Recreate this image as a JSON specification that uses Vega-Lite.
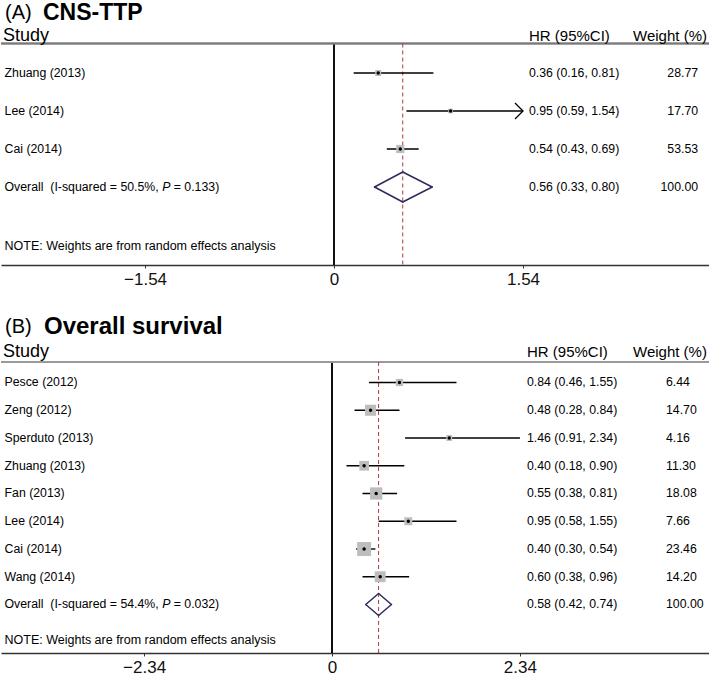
{
  "$schema": "https://vega.github.io/schema/vega-lite/v6.json",
  "padding": 0,
  "background": "white",
  "bounds": "flush",
  "spacing": 25,
  "config": {
    "view": {"stroke": null},
    "font": "Liberation Sans",
    "text": {"font": "Liberation Sans", "color": "#000", "baseline": "middle"},
    "axisY": {"disable": true},
    "axisX": {
      "domainColor": "#333", "domainWidth": 1.5, "tickColor": "#333", "tickSize": 3, "tickWidth": 1,
      "labelFont": "Liberation Sans", "labelFontSize": 17, "labelColor": "#111", "labelPadding": 3.5,
      "grid": false, "title": null, "labelFlush": false, "labelOverlap": false
    }
  },
  "datasets": {
    "a": [
      {"type": "study", "row": 1, "study": "Zhuang (2013)", "hr": 0.36, "lo": 0.16, "hi": 0.81, "weight": 28.77, "hrci": "0.36 (0.16, 0.81)"},
      {"type": "study", "row": 2, "study": "Lee (2014)", "hr": 0.95, "lo": 0.59, "hi": 1.54, "weight": 17.70, "hrci": "0.95 (0.59, 1.54)"},
      {"type": "study", "row": 3, "study": "Cai (2014)", "hr": 0.54, "lo": 0.43, "hi": 0.69, "weight": 53.53, "hrci": "0.54 (0.43, 0.69)"},
      {"type": "overall", "row": 4, "study": "Overall\u00a0\u00a0(I-squared = 50.5%,", "pval": "= 0.133)", "hr": 0.56, "lo": 0.33, "hi": 0.80, "weight": 100.00, "hrci": "0.56 (0.33, 0.80)"}
    ],
    "b": [
      {"type": "study", "row": 1, "study": "Pesce (2012)", "hr": 0.84, "lo": 0.46, "hi": 1.55, "weight": 6.44, "hrci": "0.84 (0.46, 1.55)"},
      {"type": "study", "row": 2, "study": "Zeng (2012)", "hr": 0.48, "lo": 0.28, "hi": 0.84, "weight": 14.70, "hrci": "0.48 (0.28, 0.84)"},
      {"type": "study", "row": 3, "study": "Sperduto (2013)", "hr": 1.46, "lo": 0.91, "hi": 2.34, "weight": 4.16, "hrci": "1.46 (0.91, 2.34)"},
      {"type": "study", "row": 4, "study": "Zhuang (2013)", "hr": 0.40, "lo": 0.18, "hi": 0.90, "weight": 11.30, "hrci": "0.40 (0.18, 0.90)"},
      {"type": "study", "row": 5, "study": "Fan (2013)", "hr": 0.55, "lo": 0.38, "hi": 0.81, "weight": 18.08, "hrci": "0.55 (0.38, 0.81)"},
      {"type": "study", "row": 6, "study": "Lee (2014)", "hr": 0.95, "lo": 0.58, "hi": 1.55, "weight": 7.66, "hrci": "0.95 (0.58, 1.55)"},
      {"type": "study", "row": 7, "study": "Cai (2014)", "hr": 0.40, "lo": 0.30, "hi": 0.54, "weight": 23.46, "hrci": "0.40 (0.30, 0.54)"},
      {"type": "study", "row": 8, "study": "Wang (2014)", "hr": 0.60, "lo": 0.38, "hi": 0.96, "weight": 14.20, "hrci": "0.60 (0.38, 0.96)"},
      {"type": "overall", "row": 9, "study": "Overall\u00a0\u00a0(I-squared = 54.4%,", "pval": "= 0.032)", "hr": 0.58, "lo": 0.42, "hi": 0.74, "weight": 100.00, "hrci": "0.58 (0.42, 0.74)"}
    ]
  },
  "resolve": {"scale": {"x": "independent", "y": "independent", "size": "independent"}},
  "vconcat": [
    {
      "width": 709,
      "height": 265,
      "data": {"name": "a"},
      "layer": [
        {
          "mark": {"type": "rule", "color": "#111", "strokeWidth": 1.5},
          "encoding": {
            "x": {"datum": 0, "type": "quantitative", "scale": {"domain": [-2.714, 3.064], "nice": false, "zero": false},
                  "axis": {"values": [-1.54, 0, 1.54], "labelExpr": "datum.value == 0 ? '0' : format(datum.value, '.2f')"}},
            "y": {"datum": 0.2237, "type": "quantitative", "scale": {"domain": [-0.9211, 6.0526], "reverse": true, "nice": false, "zero": false}},
            "y2": {"datum": 6.0526}
          }
        },
        {
          "mark": {"type": "rule", "color": "#7a7a7a", "strokeWidth": 1.5},
          "encoding": {"y": {"datum": 0.2237, "type": "quantitative"}}
        },
        {
          "transform": [{"filter": "datum.type == 'overall'"}],
          "mark": {"type": "rule", "color": "#b03a3a", "strokeWidth": 1, "strokeDash": [4, 3]},
          "encoding": {
            "x": {"field": "hr", "type": "quantitative"},
            "y": {"datum": 0.2237, "type": "quantitative"},
            "y2": {"datum": 6.0526}
          }
        },
        {
          "transform": [{"filter": "datum.type == 'study'"}],
          "mark": {"type": "rule", "color": "#000", "strokeWidth": 1.4},
          "encoding": {
            "x": {"field": "lo", "type": "quantitative"},
            "x2": {"field": "hi"},
            "y": {"field": "row", "type": "quantitative"}
          }
        },
        {
          "transform": [{"filter": "datum.type == 'study'"}],
          "mark": {"type": "point", "shape": "square", "filled": true, "color": "#bdbdbd", "opacity": 1},
          "encoding": {
            "x": {"field": "hr", "type": "quantitative"},
            "y": {"field": "row", "type": "quantitative"},
            "size": {"field": "weight", "type": "quantitative", "scale": {"domain": [0, 100], "range": [0, 125]}, "legend": null}
          }
        },
        {
          "transform": [{"filter": "datum.type == 'study'"}],
          "mark": {"type": "point", "shape": "circle", "filled": true, "color": "#000", "size": 12, "opacity": 1},
          "encoding": {
            "x": {"field": "hr", "type": "quantitative"},
            "y": {"field": "row", "type": "quantitative"}
          }
        },
        {
          "transform": [{"filter": "datum.study == 'Lee (2014)'"}],
          "mark": {"type": "point", "shape": "M-1,-1L0,0L-1,1", "filled": false, "stroke": "#000", "strokeWidth": 1.3, "size": 256, "opacity": 1},
          "encoding": {
            "x": {"field": "hi", "type": "quantitative"},
            "y": {"field": "row", "type": "quantitative"}
          }
        },
        {
          "transform": [{"filter": "datum.type == 'overall'"}],
          "mark": {"type": "rule", "color": "#2e2a5e", "strokeWidth": 1.5, "y2Offset": -15, "strokeCap": "round"},
          "encoding": {
            "x": {"field": "lo", "type": "quantitative"}, "x2": {"field": "hr"},
            "y": {"field": "row", "type": "quantitative"}, "y2": {"field": "row"}
          }
        },
        {
          "transform": [{"filter": "datum.type == 'overall'"}],
          "mark": {"type": "rule", "color": "#2e2a5e", "strokeWidth": 1.5, "y2Offset": 15, "strokeCap": "round"},
          "encoding": {
            "x": {"field": "lo", "type": "quantitative"}, "x2": {"field": "hr"},
            "y": {"field": "row", "type": "quantitative"}, "y2": {"field": "row"}
          }
        },
        {
          "transform": [{"filter": "datum.type == 'overall'"}],
          "mark": {"type": "rule", "color": "#2e2a5e", "strokeWidth": 1.5, "yOffset": -15, "strokeCap": "round"},
          "encoding": {
            "x": {"field": "hr", "type": "quantitative"}, "x2": {"field": "hi"},
            "y": {"field": "row", "type": "quantitative"}, "y2": {"field": "row"}
          }
        },
        {
          "transform": [{"filter": "datum.type == 'overall'"}],
          "mark": {"type": "rule", "color": "#2e2a5e", "strokeWidth": 1.5, "yOffset": 15, "strokeCap": "round"},
          "encoding": {
            "x": {"field": "hr", "type": "quantitative"}, "x2": {"field": "hi"},
            "y": {"field": "row", "type": "quantitative"}, "y2": {"field": "row"}
          }
        },
        {
          "mark": {"type": "text", "align": "left", "fontSize": 12.3},
          "encoding": {
            "x": {"datum": -2.685, "type": "quantitative"},
            "y": {"field": "row", "type": "quantitative"},
            "text": {"field": "study"}
          }
        },
        {
          "transform": [{"filter": "datum.type == 'overall'"}],
          "mark": {"type": "text", "align": "left", "fontSize": 12.3, "fontStyle": "italic", "dx": 157.6},
          "encoding": {
            "x": {"datum": -2.685, "type": "quantitative"},
            "y": {"field": "row", "type": "quantitative"},
            "text": {"value": "P"}
          }
        },
        {
          "transform": [{"filter": "datum.type == 'overall'"}],
          "mark": {"type": "text", "align": "left", "fontSize": 12.3, "dx": 169.2},
          "encoding": {
            "x": {"datum": -2.685, "type": "quantitative"},
            "y": {"field": "row", "type": "quantitative"},
            "text": {"field": "pval"}
          }
        },
        {
          "mark": {"type": "text", "align": "left", "fontSize": 12.3},
          "encoding": {
            "x": {"datum": 1.589, "type": "quantitative"},
            "y": {"field": "row", "type": "quantitative"},
            "text": {"field": "hrci"}
          }
        },
        {
          "mark": {"type": "text", "align": "right", "fontSize": 12.3},
          "encoding": {
            "x": {"datum": 2.967, "type": "quantitative"},
            "y": {"field": "row", "type": "quantitative"},
            "text": {"field": "weight", "type": "quantitative", "format": ".2f"}
          }
        },
        {
          "data": {"values": [{}]},
          "mark": {"type": "text", "align": "left", "fontSize": 20},
          "encoding": {
            "x": {"datum": -2.681, "type": "quantitative"},
            "y": {"datum": -0.579, "type": "quantitative"},
            "text": {"value": "(A)"}
          }
        },
        {
          "data": {"values": [{}]},
          "mark": {"type": "text", "align": "left", "fontSize": 23, "fontWeight": "bold"},
          "encoding": {
            "x": {"datum": -2.372, "type": "quantitative"},
            "y": {"datum": -0.579, "type": "quantitative"},
            "text": {"value": "CNS-TTP"}
          }
        },
        {
          "data": {"values": [{}]},
          "mark": {"type": "text", "align": "left", "fontSize": 18},
          "encoding": {
            "x": {"datum": -2.698, "type": "quantitative"},
            "y": {"datum": 0.0263, "type": "quantitative"},
            "text": {"value": "Study"}
          }
        },
        {
          "data": {"values": [{}]},
          "mark": {"type": "text", "align": "left", "fontSize": 15},
          "encoding": {
            "x": {"datum": 1.589, "type": "quantitative"},
            "y": {"datum": 0.0263, "type": "quantitative"},
            "text": {"value": "HR (95%CI)"}
          }
        },
        {
          "data": {"values": [{}]},
          "mark": {"type": "text", "align": "left", "fontSize": 15},
          "encoding": {
            "x": {"datum": 2.437, "type": "quantitative"},
            "y": {"datum": 0.0263, "type": "quantitative"},
            "text": {"value": "Weight (%)"}
          }
        },
        {
          "data": {"values": [{}]},
          "mark": {"type": "text", "align": "left", "fontSize": 12.5},
          "encoding": {
            "x": {"datum": -2.685, "type": "quantitative"},
            "y": {"datum": 5.553, "type": "quantitative"},
            "text": {"value": "NOTE: Weights are from random effects analysis"}
          }
        }
      ]
    },
    {
      "width": 709,
      "height": 363,
      "data": {"name": "b"},
      "layer": [
        {
          "mark": {"type": "rule", "color": "#111", "strokeWidth": 1.5},
          "encoding": {
            "x": {"datum": 0, "type": "quantitative", "scale": {"domain": [-4.122, 4.707], "nice": false, "zero": false},
                  "axis": {"values": [-2.34, 0, 2.34], "labelExpr": "datum.value == 0 ? '0' : format(datum.value, '.2f')"}},
            "y": {"datum": 0.261, "type": "quantitative", "scale": {"domain": [-2.333, 10.748], "reverse": true, "nice": false, "zero": false}},
            "y2": {"datum": 10.748}
          }
        },
        {
          "mark": {"type": "rule", "color": "#9a9a9a", "strokeWidth": 1.5},
          "encoding": {"y": {"datum": 0.261, "type": "quantitative"}}
        },
        {
          "transform": [{"filter": "datum.type == 'overall'"}],
          "mark": {"type": "rule", "color": "#b03a3a", "strokeWidth": 1, "strokeDash": [4, 3]},
          "encoding": {
            "x": {"field": "hr", "type": "quantitative"},
            "y": {"datum": 0.261, "type": "quantitative"},
            "y2": {"datum": 10.748}
          }
        },
        {
          "transform": [{"filter": "datum.type == 'study'"}],
          "mark": {"type": "rule", "color": "#000", "strokeWidth": 1.4},
          "encoding": {
            "x": {"field": "lo", "type": "quantitative"},
            "x2": {"field": "hi"},
            "y": {"field": "row", "type": "quantitative"}
          }
        },
        {
          "transform": [{"filter": "datum.type == 'study'"}],
          "mark": {"type": "point", "shape": "square", "filled": true, "color": "#bdbdbd", "opacity": 1},
          "encoding": {
            "x": {"field": "hr", "type": "quantitative"},
            "y": {"field": "row", "type": "quantitative"},
            "size": {"field": "weight", "type": "quantitative", "scale": {"domain": [0, 100], "range": [0, 830]}, "legend": null}
          }
        },
        {
          "transform": [{"filter": "datum.type == 'study'"}],
          "mark": {"type": "point", "shape": "circle", "filled": true, "color": "#000", "size": 12, "opacity": 1},
          "encoding": {
            "x": {"field": "hr", "type": "quantitative"},
            "y": {"field": "row", "type": "quantitative"}
          }
        },
        {
          "transform": [{"filter": "datum.type == 'overall'"}],
          "mark": {"type": "rule", "color": "#2e2a5e", "strokeWidth": 1.5, "y2Offset": -11, "strokeCap": "round"},
          "encoding": {
            "x": {"field": "lo", "type": "quantitative"}, "x2": {"field": "hr"},
            "y": {"field": "row", "type": "quantitative"}, "y2": {"field": "row"}
          }
        },
        {
          "transform": [{"filter": "datum.type == 'overall'"}],
          "mark": {"type": "rule", "color": "#2e2a5e", "strokeWidth": 1.5, "y2Offset": 11, "strokeCap": "round"},
          "encoding": {
            "x": {"field": "lo", "type": "quantitative"}, "x2": {"field": "hr"},
            "y": {"field": "row", "type": "quantitative"}, "y2": {"field": "row"}
          }
        },
        {
          "transform": [{"filter": "datum.type == 'overall'"}],
          "mark": {"type": "rule", "color": "#2e2a5e", "strokeWidth": 1.5, "yOffset": -11, "strokeCap": "round"},
          "encoding": {
            "x": {"field": "hr", "type": "quantitative"}, "x2": {"field": "hi"},
            "y": {"field": "row", "type": "quantitative"}, "y2": {"field": "row"}
          }
        },
        {
          "transform": [{"filter": "datum.type == 'overall'"}],
          "mark": {"type": "rule", "color": "#2e2a5e", "strokeWidth": 1.5, "yOffset": 11, "strokeCap": "round"},
          "encoding": {
            "x": {"field": "hr", "type": "quantitative"}, "x2": {"field": "hi"},
            "y": {"field": "row", "type": "quantitative"}, "y2": {"field": "row"}
          }
        },
        {
          "mark": {"type": "text", "align": "left", "fontSize": 12.3},
          "encoding": {
            "x": {"datum": -4.078, "type": "quantitative"},
            "y": {"field": "row", "type": "quantitative"},
            "text": {"field": "study"}
          }
        },
        {
          "transform": [{"filter": "datum.type == 'overall'"}],
          "mark": {"type": "text", "align": "left", "fontSize": 12.3, "fontStyle": "italic", "dx": 157.6},
          "encoding": {
            "x": {"datum": -4.078, "type": "quantitative"},
            "y": {"field": "row", "type": "quantitative"},
            "text": {"value": "P"}
          }
        },
        {
          "transform": [{"filter": "datum.type == 'overall'"}],
          "mark": {"type": "text", "align": "left", "fontSize": 12.3, "dx": 169.2},
          "encoding": {
            "x": {"datum": -4.078, "type": "quantitative"},
            "y": {"field": "row", "type": "quantitative"},
            "text": {"field": "pval"}
          }
        },
        {
          "mark": {"type": "text", "align": "left", "fontSize": 12.3},
          "encoding": {
            "x": {"datum": 2.428, "type": "quantitative"},
            "y": {"field": "row", "type": "quantitative"},
            "text": {"field": "hrci"}
          }
        },
        {
          "mark": {"type": "text", "align": "left", "fontSize": 12.3},
          "encoding": {
            "x": {"datum": 4.159, "type": "quantitative"},
            "y": {"field": "row", "type": "quantitative"},
            "text": {"field": "weight", "type": "quantitative", "format": ".2f"}
          }
        },
        {
          "data": {"values": [{}]},
          "mark": {"type": "text", "align": "left", "fontSize": 20},
          "encoding": {
            "x": {"datum": -4.072, "type": "quantitative"},
            "y": {"datum": -1.0, "type": "quantitative"},
            "text": {"value": "(B)"}
          }
        },
        {
          "data": {"values": [{}]},
          "mark": {"type": "text", "align": "left", "fontSize": 24, "fontWeight": "bold"},
          "encoding": {
            "x": {"datum": -3.587, "type": "quantitative"},
            "y": {"datum": -1.0, "type": "quantitative"},
            "text": {"value": "Overall survival"}
          }
        },
        {
          "data": {"values": [{}]},
          "mark": {"type": "text", "align": "left", "fontSize": 18},
          "encoding": {
            "x": {"datum": -4.097, "type": "quantitative"},
            "y": {"datum": -0.099, "type": "quantitative"},
            "text": {"value": "Study"}
          }
        },
        {
          "data": {"values": [{}]},
          "mark": {"type": "text", "align": "left", "fontSize": 15},
          "encoding": {
            "x": {"datum": 2.428, "type": "quantitative"},
            "y": {"datum": -0.099, "type": "quantitative"},
            "text": {"value": "HR (95%CI)"}
          }
        },
        {
          "data": {"values": [{}]},
          "mark": {"type": "text", "align": "left", "fontSize": 15},
          "encoding": {
            "x": {"datum": 3.748, "type": "quantitative"},
            "y": {"datum": -0.099, "type": "quantitative"},
            "text": {"value": "Weight (%)"}
          }
        },
        {
          "data": {"values": [{}]},
          "mark": {"type": "text", "align": "left", "fontSize": 12.5},
          "encoding": {
            "x": {"datum": -4.078, "type": "quantitative"},
            "y": {"datum": 10.28, "type": "quantitative"},
            "text": {"value": "NOTE: Weights are from random effects analysis"}
          }
        }
      ]
    }
  ]
}
